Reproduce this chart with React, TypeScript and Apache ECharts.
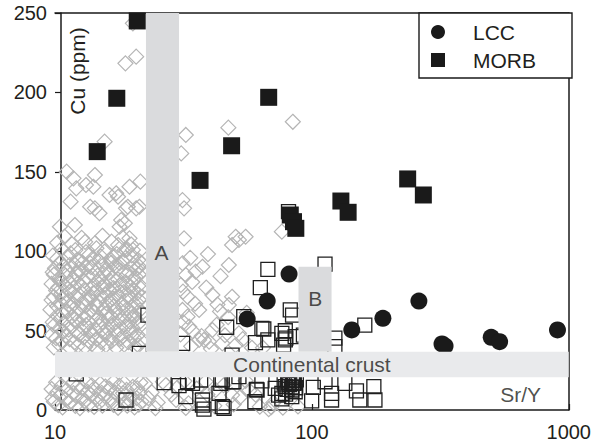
import React, { useEffect, useRef } from "react";
import * as echarts from "echarts";

const FONT = "'Liberation Sans', Arial, Helvetica, sans-serif";
const INK = "#231f20";

// axis ranges / ticks
const xRange = [10, 1000];
const yRange = [0, 250];
const yInterval = 50;

// Filled black circles (LCC) [Sr/Y, Cu]
const lccData: number[][] = [
  [56, 57.3], [67, 68.6], [81.5, 85.6], [143, 50.4], [189, 57.7], [261, 68.6],
  [321, 41.6], [330, 40.3], [499, 45.8], [538, 43], [904, 50.4],
];

// Filled black squares (MORB)
const morbData: number[][] = [
  [20.9, 245], [17.4, 196.3], [14.6, 162.7], [36.7, 144.6], [48.7, 166.4], [67.9, 196.9],
  [82.4, 122.8], [84.8, 118.6], [86.6, 114.4], [129.7, 131.6], [138.4, 124.5],
  [236, 145.5], [271.6, 135.4],
];

// Open black squares
const openSquares: number[][] = [
  [81.1, 124.9], [112.5, 91.9], [67.4, 88.6], [63.0, 77.1], [82.4, 63.0], [84.1, 59.8],
  [54.3, 58.8], [23.0, 59.8], [160.7, 53.5], [46.6, 52.1], [63.9, 51.4], [65, 51],
  [78.8, 49.9], [76.4, 48.3], [92.7, 47.2], [86.1, 46.2], [122.9, 45.2], [79.2, 45.2],
  [67.4, 44.1], [78.8, 44.1], [60.3, 42.4], [31.4, 42.0], [77.6, 40.9], [122.9, 39.9],
  [21.3, 35.7], [48.9, 34.6], [12.1, 22.7], [52.0, 21.0],
  [26.6, 17.2], [30.4, 15.3], [32.8, 17.8], [34.3, 16.8], [36.9, 18.9], [32.3, 8.4],
  [18.9, 6.3], [37.5, 3.1], [38.0, 0.5], [37.5, 6.3], [44.2, 16.8], [44.8, 18.9],
  [43.5, 10.5], [45.5, 1.1], [44.8, 2.1], [48.9, 17.8], [49.7, 17.8], [60, 5.2],
  [61.2, 12.6], [60.8, 13], [63.9, 18.3], [72, 13.6], [74.2, 9.4], [76.4, 10.5],
  [76.4, 7], [78.8, 14.7], [81.1, 17.3], [83.5, 12.6], [84.8, 16.8], [86.1, 11.5],
  [83.5, 8.4], [99.8, 5.8], [101.3, 14.2], [112.5, 17.8], [119.3, 6.3], [119.3, 10.5],
  [134.4, 16.8], [149.1, 12], [153.7, 6.3], [174.3, 14.7], [176, 6.3],
  [78, 17], [80.5, 19], [82, 16], [84, 18.5], [85.5, 17], [87, 19], [80, 13],
  [83.5, 14.5], [86.5, 14], [79, 10],
];

// Open grey diamonds
const diamonds: number[][] = [
  [20.1, 243.5], [18.8, 218.3], [20.7, 222.5], [15.6, 169], [32.3, 173.2], [47.3, 177.8],
  [84.3, 181.5], [11.1, 150.1], [11.8, 145.9], [12.1, 139.6], [13.2, 141.7], [14.3, 148],
  [14.1, 140.6], [16.3, 135.4], [17.3, 136.5], [17.6, 134.3], [19.5, 140.6], [21.5, 143.8],
  [11.5, 131.2], [13.7, 128], [14.3, 127], [14.9, 123.9], [18.9, 127], [19.2, 128],
  [20.7, 127], [21.3, 128], [18.1, 119.6], [18.7, 117.6], [17.85, 115.4], [10.45, 115.4],
  [11.95, 116.5], [19.5, 108.1], [14.3, 105], [16.6, 106], [17.6, 103.9], [15.6, 99.7],
  [18.7, 100.8], [20.1, 100.8], [16.8, 96.5], [11.4, 91.3], [13.7, 92.4], [17.85, 92.4],
  [21.3, 90.2], [31.35, 132.2], [31.8, 127], [31.8, 108.1], [31.35, 92.4], [31.0, 161.6],
  [37.5, 90.2], [48.9, 103.9], [50.5, 109.1], [47.5, 91.3], [32.3, 85], [35.3, 87.1],
  [32.8, 71.3], [41, 72.4], [47.5, 66.1], [32.8, 58.8], [36.4, 63], [41, 50.4],
  [36.4, 44.1], [39.8, 43], [33.3, 52.5], [52, 48.3], [50.5, 40.9], [30.9, 78.7],
  [31.35, 63], [76.4, 112.3], [52, 107.1], [55.2, 109.1], [48.9, 71.3], [38, 44.1],
  [44.8, 42], [31.6, 55.2], [34.4, 49.6], [37.2, 46.5], [42.6, 53.7], [45.9, 47.1],
  [53.8, 44.6], [58.4, 39.2], [33.9, 40.1], [40.5, 38.5], [47.2, 58.4], [35.1, 66.9],
  [43.9, 62.1], [64.5, 39.2],
  [31.5, 74.5], [34.2, 80.6], [38.8, 77.1], [44.1, 84.3], [33.6, 95.8], [39.4, 98.2],
  [42.9, 66.4], [55.8, 61.2], [30.8, 47.6],
  [31.9, 18.2], [35.6, 13.4], [39.2, 9.8], [45.3, 15.6], [52.4, 7.9], [57.1, 12.3],
  [33.1, 4.2], [41.7, 2.6], [38.6, 17.9], [49.6, 3.5], [62.7, 2.1], [55.2, 18.4],
  [69.5, 1.8], [60.4, 9.6], [27, 15.7], [29.6, 6.3], [42.2, 12.6], [48.9, 9.4],
  [67.9, 0.5], [32.3, 1.3], [70.8, 4.6], [88.3, 2.2], [77.1, 1.5],
  [22.4, 16.5], [23.8, 11.2], [25.1, 4.8], [26.3, 17.8], [28.4, 9.6], [24.6, 1.2],
  [29.9, 13.9], [23.1, 7.4],
  [10.9, 109.2], [12.7, 108.4], [15.3, 109.7], [18.3, 108.8],
  [10.2, 105.3], [11.6, 104.6], [13.1, 105.9], [19.8, 104.2],
  [10.6, 101.4], [12.0, 100.7], [14.5, 101.8], [19.1, 101.2], [21.4, 100.3],
  [11.5, 98.6], [13.2, 99.4], [17.4, 98.2],
  [9.8, 97.2], [11.3, 96.8], [13.6, 97.7], [15.1, 96.6], [19.9, 97.4],
  [10.2, 95.3], [12.2, 94.6], [14.1, 95.8], [16.4, 94.9], [18.8, 95.6], [21.1, 94.4],
  [10.5, 93.1], [12.8, 92.7], [14.9, 93.6], [16.6, 92.8], [18.4, 93.3], [21.7, 92.6],
  [10.8, 90.6], [11.9, 91.8], [13.8, 89.9], [15.4, 91.2], [17.1, 90.4], [20.2, 91.5],
  [10.0, 89.3], [12.4, 88.7], [13.2, 89.5], [15.8, 88.6], [17.6, 89.2], [20.7, 88.9],
  [9.8, 86.8], [11.2, 87.5], [12.6, 86.4], [14.7, 87.9], [16.1, 86.2], [18.1, 87.3],
  [19.4, 86.6], [21.8, 87.1],
  [9.9, 85.2], [11.0, 84.6], [12.1, 85.4], [14.0, 84.8], [15.5, 85.7], [19.0, 84.9],
  [21.2, 85.3],
  [10.4, 83.2], [11.7, 82.5], [13.4, 83.7], [15.0, 82.9], [16.7, 83.4], [17.6, 82.2],
  [20.6, 83.8],
  [10.5, 81.1], [11.4, 80.6], [13.0, 81.4], [14.6, 80.8], [16.4, 81.3], [18.8, 80.5],
  [20.2, 81.6],
  [9.7, 79.4], [10.9, 78.6], [12.3, 79.8], [14.2, 78.9], [15.6, 79.3], [17.9, 78.4],
  [19.0, 79.7], [21.3, 78.8],
  [10.3, 77.2], [11.8, 76.6], [12.7, 77.5], [13.9, 76.8], [15.4, 77.4], [16.9, 76.7],
  [19.7, 77.3], [21.6, 76.4],
  [10.1, 75.2], [11.4, 74.6], [13.0, 75.7], [14.5, 74.9], [16.2, 75.4], [18.5, 74.3],
  [20.1, 75.8],
  [10.6, 73.3], [12.4, 72.6], [14.1, 73.7], [15.8, 72.9], [17.4, 73.2], [19.3, 72.5],
  [20.9, 73.6],
  [9.9, 71.3], [10.7, 70.5], [12.0, 71.6], [13.7, 70.8], [15.2, 71.9], [16.8, 70.2],
  [17.7, 71.4], [19.6, 70.7], [21.9, 71.2],
  [9.7, 69.2], [11.2, 68.8], [13.3, 69.5], [14.8, 68.6], [16.5, 69.3], [18.9, 68.7],
  [21.2, 69.4],
  [10.5, 67.4], [11.8, 66.6], [12.8, 67.9], [14.4, 66.8], [15.9, 67.2], [18.2, 66.5],
  [20.8, 67.6],
  [10.2, 65.3], [11.5, 64.7], [13.1, 65.6], [14.6, 64.9], [16.9, 65.2], [18.4, 64.6],
  [20.0, 65.5],
  [9.6, 63.2], [11.1, 62.5], [12.5, 63.8], [13.9, 62.9], [15.5, 63.4], [17.2, 62.6],
  [19.1, 63.7], [21.4, 62.8],
  [10.7, 61.2], [12.0, 60.6], [14.2, 61.4], [15.9, 60.8], [17.6, 61.3], [19.8, 60.5],
  [21.8, 61.1],
  [10.2, 59.4], [11.6, 58.7], [13.3, 59.9], [14.8, 58.5], [16.5, 59.2], [18.7, 58.8],
  [20.3, 59.6],
  [10.5, 57.4], [11.9, 56.8], [12.9, 57.6], [14.5, 56.7], [16.2, 57.3], [17.8, 56.5],
  [20.6, 57.2],
  [9.8, 55.3], [10.8, 54.6], [12.2, 55.8], [13.6, 54.9], [15.3, 55.5], [17.0, 54.4],
  [19.5, 55.7], [21.2, 54.8],
  [9.9, 53.2], [11.6, 52.7], [13.2, 53.5], [14.9, 52.8], [16.7, 53.4], [18.9, 52.6],
  [21.5, 53.1],
  [10.4, 51.2], [11.3, 50.6], [12.9, 51.7], [14.3, 50.9], [16.0, 51.4], [17.8, 50.5],
  [20.0, 51.8],
  [10.8, 49.3], [12.2, 48.7], [13.7, 49.6], [15.4, 48.8], [17.1, 49.2], [19.7, 48.6],
  [9.7, 47.3], [11.0, 46.7], [12.4, 47.6], [14.0, 46.9], [15.7, 47.4], [18.4, 46.5],
  [21.0, 47.2],
  [10.1, 45.2], [11.4, 44.6], [12.9, 45.5], [14.5, 44.8], [16.2, 45.3], [17.9, 44.7],
  [20.3, 45.4],
  [10.6, 43.4], [11.9, 42.6], [13.5, 43.8], [15.1, 42.9], [16.6, 43.3], [19.3, 42.7],
  [21.7, 43.5],
  [10.4, 41.3], [12.3, 40.7], [13.9, 41.5], [15.8, 40.9], [18.6, 41.2], [21.1, 40.6],
  [9.9, 39.4], [11.5, 38.8], [13.1, 39.7], [14.6, 38.6], [17.3, 39.2], [20.5, 39.8],
  [10.1, 17.4], [11.7, 16.8], [13.2, 17.9], [15.0, 16.5], [16.9, 17.6], [18.6, 16.9],
  [21.5, 17.3],
  [10.6, 15.2], [12.2, 14.7], [13.9, 15.5], [15.7, 14.8], [17.8, 15.3], [20.1, 14.6],
  [9.7, 13.2], [11.1, 12.6], [12.7, 13.8], [14.4, 12.9], [16.3, 13.4], [19.0, 12.7],
  [20.9, 13.6],
  [10.2, 11.1], [11.8, 10.6], [13.4, 11.4], [15.2, 10.8], [17.1, 11.2], [18.4, 10.5],
  [21.3, 11.0],
  [10.5, 9.3], [12.1, 8.7], [13.8, 9.6], [15.6, 8.9], [17.5, 9.4], [19.8, 8.6],
  [9.8, 7.2], [11.0, 6.7], [12.8, 7.5], [14.6, 6.8], [16.4, 7.3], [19.4, 6.6], [20.8, 7.4],
  [9.9, 5.2], [11.4, 4.7], [13.0, 5.6], [14.9, 4.9], [16.8, 5.4], [18.9, 4.6], [21.7, 5.3],
  [10.3, 3.1], [12.0, 2.6], [13.5, 3.4], [15.3, 2.8], [16.9, 3.2], [19.1, 2.7], [21.2, 3.3],
  [10.7, 1.6], [12.5, 1.2], [14.2, 1.9], [17.6, 1.4], [20.4, 1.7],
];

// shaded fields: [xMin, xMax, yMin, yMax]
const bandA = [22.6, 30.4, 36.7, 250];
const bandB = [88.7, 119.3, 36.7, 90.2];
const crustBand = [10, 1000, 20.6, 36.7];

// text annotations placed in data coordinates
const annotations = [
  { name: "A", value: [26, 99] },
  { name: "B", value: [103, 70] },
  { name: "Continental crust", value: [100, 28.5] },
  { name: "Sr/Y", value: [650, 9.5] },
];

const legendNames = ["LCC", "MORB"];

function area(b: number[], color: string) {
  return [
    { coord: [b[0], b[2]], itemStyle: { color, opacity: 1, borderWidth: 0 } },
    { coord: [b[1], b[3]] },
  ];
}

export default function App() {
  const ref = useRef<HTMLDivElement>(null);
  useEffect(() => {
    const chart = echarts.init(ref.current!, null, { renderer: "svg" });
    const axisLine = { show: true, onZero: false, lineStyle: { color: "#1a1a1a", width: 1.5 } };
    chart.setOption({
      animation: false,
      backgroundColor: "#fff",
      textStyle: { fontFamily: FONT, color: INK },
      grid: { left: 55, right: 22, top: 13, bottom: 33, containLabel: false },
      legend: {
        data: legendNames,
        orient: "vertical",
        left: 431,
        top: 21.5,
        padding: 0,
        itemWidth: 14,
        itemHeight: 14,
        itemGap: 7,
        z: 30,
        selectedMode: false,
        itemStyle: { opacity: 1 },
        textStyle: { fontSize: 21, color: INK, fontFamily: FONT, padding: [0, 0, 0, 23] },
      },
      xAxis: [
        {
          type: "log",
          logBase: 10,
          min: xRange[0],
          max: xRange[1],
          axisLine,
          axisTick: { show: true, inside: true, length: 6, lineStyle: { color: "#1a1a1a", width: 1.2 } },
          minorTick: { show: false },
          splitLine: { show: false },
          axisLabel: {
            fontSize: 20,
            color: INK,
            margin: 12,
            fontFamily: FONT,
            formatter: (v: number) => String(Math.round(v)),
          },
        },
        {
          type: "log",
          logBase: 10,
          min: xRange[0],
          max: xRange[1],
          position: "top",
          axisLine,
          axisTick: { show: false },
          axisLabel: { show: false },
          splitLine: { show: false },
        },
      ],
      yAxis: [
        {
          type: "value",
          min: yRange[0],
          max: yRange[1],
          interval: yInterval,
          offset: -6,
          axisLine,
          axisTick: { show: true, length: 6, lineStyle: { color: "#1a1a1a", width: 1.2 } },
          splitLine: { show: false },
          axisLabel: { fontSize: 20, color: INK, margin: 14, fontFamily: FONT },
        },
        {
          type: "value",
          min: yRange[0],
          max: yRange[1],
          interval: yInterval,
          position: "right",
          axisLine,
          axisTick: { show: false },
          axisLabel: { show: false },
          splitLine: { show: false },
        },
      ],
      graphic: [
        {
          type: "rect",
          shape: { x: 419, y: 13, width: 153, height: 65 },
          style: { fill: "#fff", stroke: "#1a1a1a", lineWidth: 1.4 },
          z: 25,
        },
        {
          type: "text",
          x: 77,
          y: 71,
          rotation: Math.PI / 2,
          style: {
            text: "Cu (ppm)",
            fontSize: 21,
            fontFamily: FONT,
            fill: INK,
            align: "center",
            verticalAlign: "middle",
          },
          z: 30,
        },
      ],
      series: [
        {
          type: "scatter",
          name: "diamonds",
          data: diamonds,
          symbol: "diamond",
          symbolSize: 15,
          clip: false,
          z: 2,
          silent: true,
          itemStyle: { color: "rgba(0,0,0,0)", borderColor: "#b5b5b5", borderWidth: 1.2, opacity: 1 },
        },
        {
          type: "scatter",
          name: "open squares",
          data: openSquares,
          symbol: "rect",
          symbolSize: 14,
          clip: false,
          z: 3,
          silent: true,
          itemStyle: { color: "rgba(0,0,0,0)", borderColor: "#1f1f1f", borderWidth: 1.3, opacity: 1 },
        },
        {
          type: "scatter",
          name: "MORB",
          data: morbData,
          symbol: "rect",
          symbolSize: 17,
          clip: false,
          z: 4,
          silent: true,
          itemStyle: { color: "#1a1a1a", opacity: 1 },
        },
        {
          type: "scatter",
          name: "LCC",
          data: lccData,
          symbol: "circle",
          symbolSize: 17,
          clip: false,
          z: 4,
          silent: true,
          itemStyle: { color: "#1a1a1a", opacity: 1 },
        },
        {
          type: "scatter",
          name: "fields",
          data: [],
          z: 10,
          silent: true,
          markArea: {
            silent: true,
            z: 10,
            label: { show: false },
            data: [area(bandA, "#dadbdd"), area(bandB, "#dadbdd"), area(crustBand, "#e9eaec")],
          },
        },
        {
          type: "scatter",
          name: "annotations",
          data: annotations,
          symbolSize: 0,
          z: 12,
          silent: true,
          clip: false,
          label: {
            show: true,
            position: "inside",
            formatter: "{b}",
            fontSize: 21,
            color: INK,
            fontFamily: FONT,
          },
        },
      ],
    });
    return () => chart.dispose();
  }, []);
  return (
    <div
      ref={ref}
      style={{ position: "fixed", left: 0, top: 0, width: 594, height: 443, background: "#fff" }}
    />
  );
}
